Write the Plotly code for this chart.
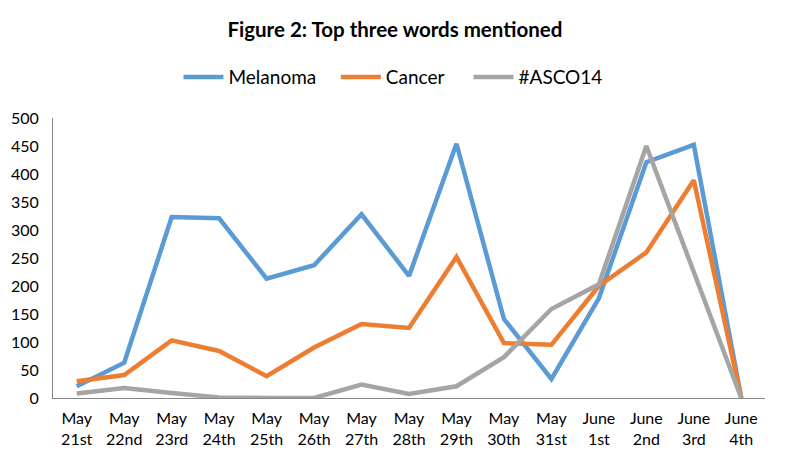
import plotly.graph_objects as go

categories = ["May<br>21st", "May<br>22nd", "May<br>23rd", "May<br>24th", "May<br>25th",
              "May<br>26th", "May<br>27th", "May<br>28th", "May<br>29th", "May<br>30th",
              "May<br>31st", "June<br>1st", "June<br>2nd", "June<br>3rd", "June<br>4th"]
melanoma = [21, 63, 323, 321, 213, 237, 328, 218, 454, 141, 34, 178, 421, 452, 0]
cancer = [30, 41, 103, 84, 39, 90, 132, 125, 252, 98, 95, 200, 260, 389, 0]
asco14 = [8, 18, 9, 1, 0, 0, 24, 7, 21, 73, 159, 203, 450, 225, 0]

series = [("Melanoma", melanoma, "#5B9BD5", 3),
          ("Cancer", cancer, "#ED7D31", 4),
          ("#ASCO14", asco14, "#A5A5A5", 0)]

fig = go.Figure()
for name, vals, color, pad in series:
    fig.add_trace(go.Scatter(x=categories, y=vals, name=name + "\u00a0" * pad, mode="lines",
                             line=dict(color=color, width=4.5)))

font_family = "Lato, 'Open Sans', sans-serif"
fig.update_layout(
    width=780, height=455,
    margin=dict(l=45, r=23, t=110, b=65, autoexpand=False),
    paper_bgcolor="white", plot_bgcolor="white",
    font=dict(family=font_family, color="#000000", size=16),
    title=dict(text="<b>Figure 2: Top three words mentioned</b>", x=0.496, xanchor="center",
               y=0.952, yanchor="middle", font=dict(size=20.5, family=font_family)),
    legend=dict(orientation="h", x=0.4775, xanchor="center", y=1.146, yanchor="middle",
                font=dict(size=19), itemwidth=40, traceorder="normal"),
    showlegend=True,
)
fig.update_xaxes(range=[-0.5, 14.5], showgrid=False, showline=True, linecolor="#868686",
                 linewidth=1, ticks="", tickfont=dict(size=16), ticklabelstandoff=6,
                 fixedrange=True)
fig.update_yaxes(range=[0, 500], dtick=50, showgrid=False, showline=True,
                 linecolor="#868686", linewidth=1, ticks="", tickfont=dict(size=16),
                 ticklabelstandoff=10, zeroline=False, fixedrange=True)

fig.write_html("out.html")
